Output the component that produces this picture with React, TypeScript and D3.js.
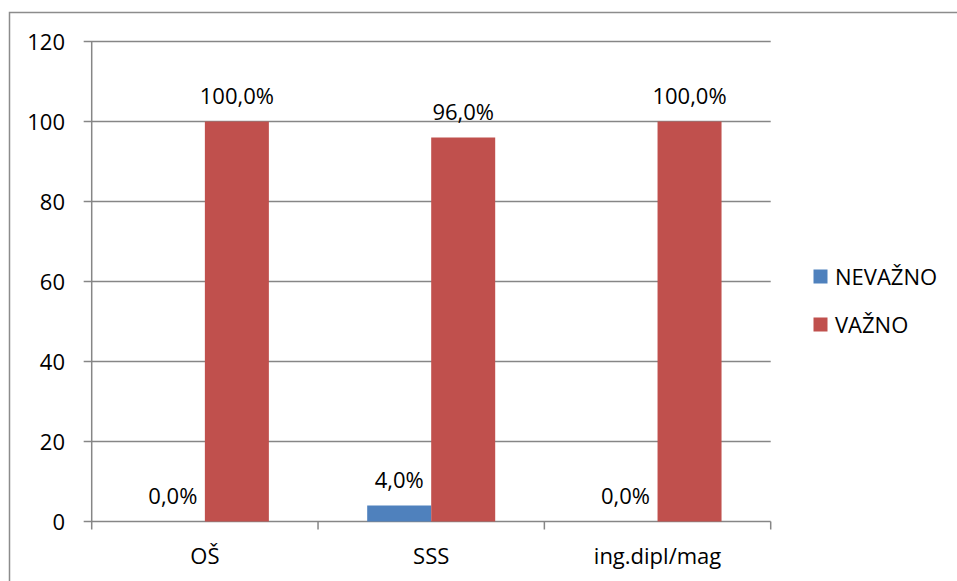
import React from 'react';
import * as d3 from 'd3';

const categories = ['OŠ', 'SSS', 'ing.dipl/mag'];
const seriesNames = ['NEVAŽNO', 'VAŽNO'];
const nevaznoValues = [0, 4, 0];
const vaznoValues = [100, 96, 100];
const yTicks = [0, 20, 40, 60, 80, 100, 120];
const colors = ['#4F81BD', '#C0504D'];

const W = 957, H = 581;
const plot = { left: 91.7, right: 770.7, top: 41.5, bottom: 521.5 };
const FONT = "'Open Sans', sans-serif";
const FS = 22;

export default function App() {
  const x = d3.scaleBand<string>().domain(categories).range([plot.left, plot.right]);
  const inner = d3.scaleBand<string>().domain(seriesNames).range([0, 128]);
  const y = d3.scaleLinear().domain([0, 120]).range([plot.bottom, plot.top]);
  const series = [nevaznoValues, vaznoValues];
  const fmt = (v: number) => v.toFixed(1).replace('.', ',') + '%';

  return (
    <svg width={W} height={H} style={{ position: 'absolute', left: 0, top: 0, background: '#fff' }} fontFamily={FONT}>
      <rect x={9.5} y={12.5} width={1200} height={1200} fill="none" stroke="#8c8c8c" strokeWidth={1.5} />
      {yTicks.map(t => (
        <g key={t}>
          <line x1={plot.left - 8} x2={plot.right} y1={y(t)} y2={y(t)} stroke="#868686" strokeWidth={1.5} />
          <text x={65} y={y(t) + 8.5} textAnchor="end" fontSize={FS} fill="#000">{t}</text>
        </g>
      ))}
      <line x1={plot.left} x2={plot.left} y1={plot.top} y2={plot.bottom + 8} stroke="#868686" strokeWidth={1.5} />
      {categories.map((c, i) => (
        <line key={'t' + i} x1={x(c)! + x.bandwidth()} x2={x(c)! + x.bandwidth()} y1={plot.bottom} y2={plot.bottom + 8} stroke="#868686" strokeWidth={1.5} />
      ))}
      {categories.map((c, i) => {
        const cx = x(c)! + x.bandwidth() / 2;
        return (
          <g key={c}>
            {series.map((vals, s) => {
              const bx = cx - 64 + inner(seriesNames[s])!;
              const v = vals[i];
              return (
                <g key={s}>
                  <rect x={bx} y={y(v)} width={inner.bandwidth()} height={plot.bottom - y(v)} fill={colors[s]} />
                  <text x={bx + inner.bandwidth() / 2} y={y(v) - 18} textAnchor="middle" fontSize={FS} fill="#000">{fmt(v)}</text>
                </g>
              );
            })}
            <text x={cx} y={563.5} textAnchor="middle" fontSize={FS} fill="#000">{c}</text>
          </g>
        );
      })}
      {seriesNames.map((n, s) => (
        <g key={n}>
          <rect x={813.5} y={269.5 + s * 48} width={14} height={14} fill={colors[s]} />
          <text x={835} y={284.5 + s * 48} fontSize={FS} fill="#000">{n}</text>
        </g>
      ))}
    </svg>
  );
}
